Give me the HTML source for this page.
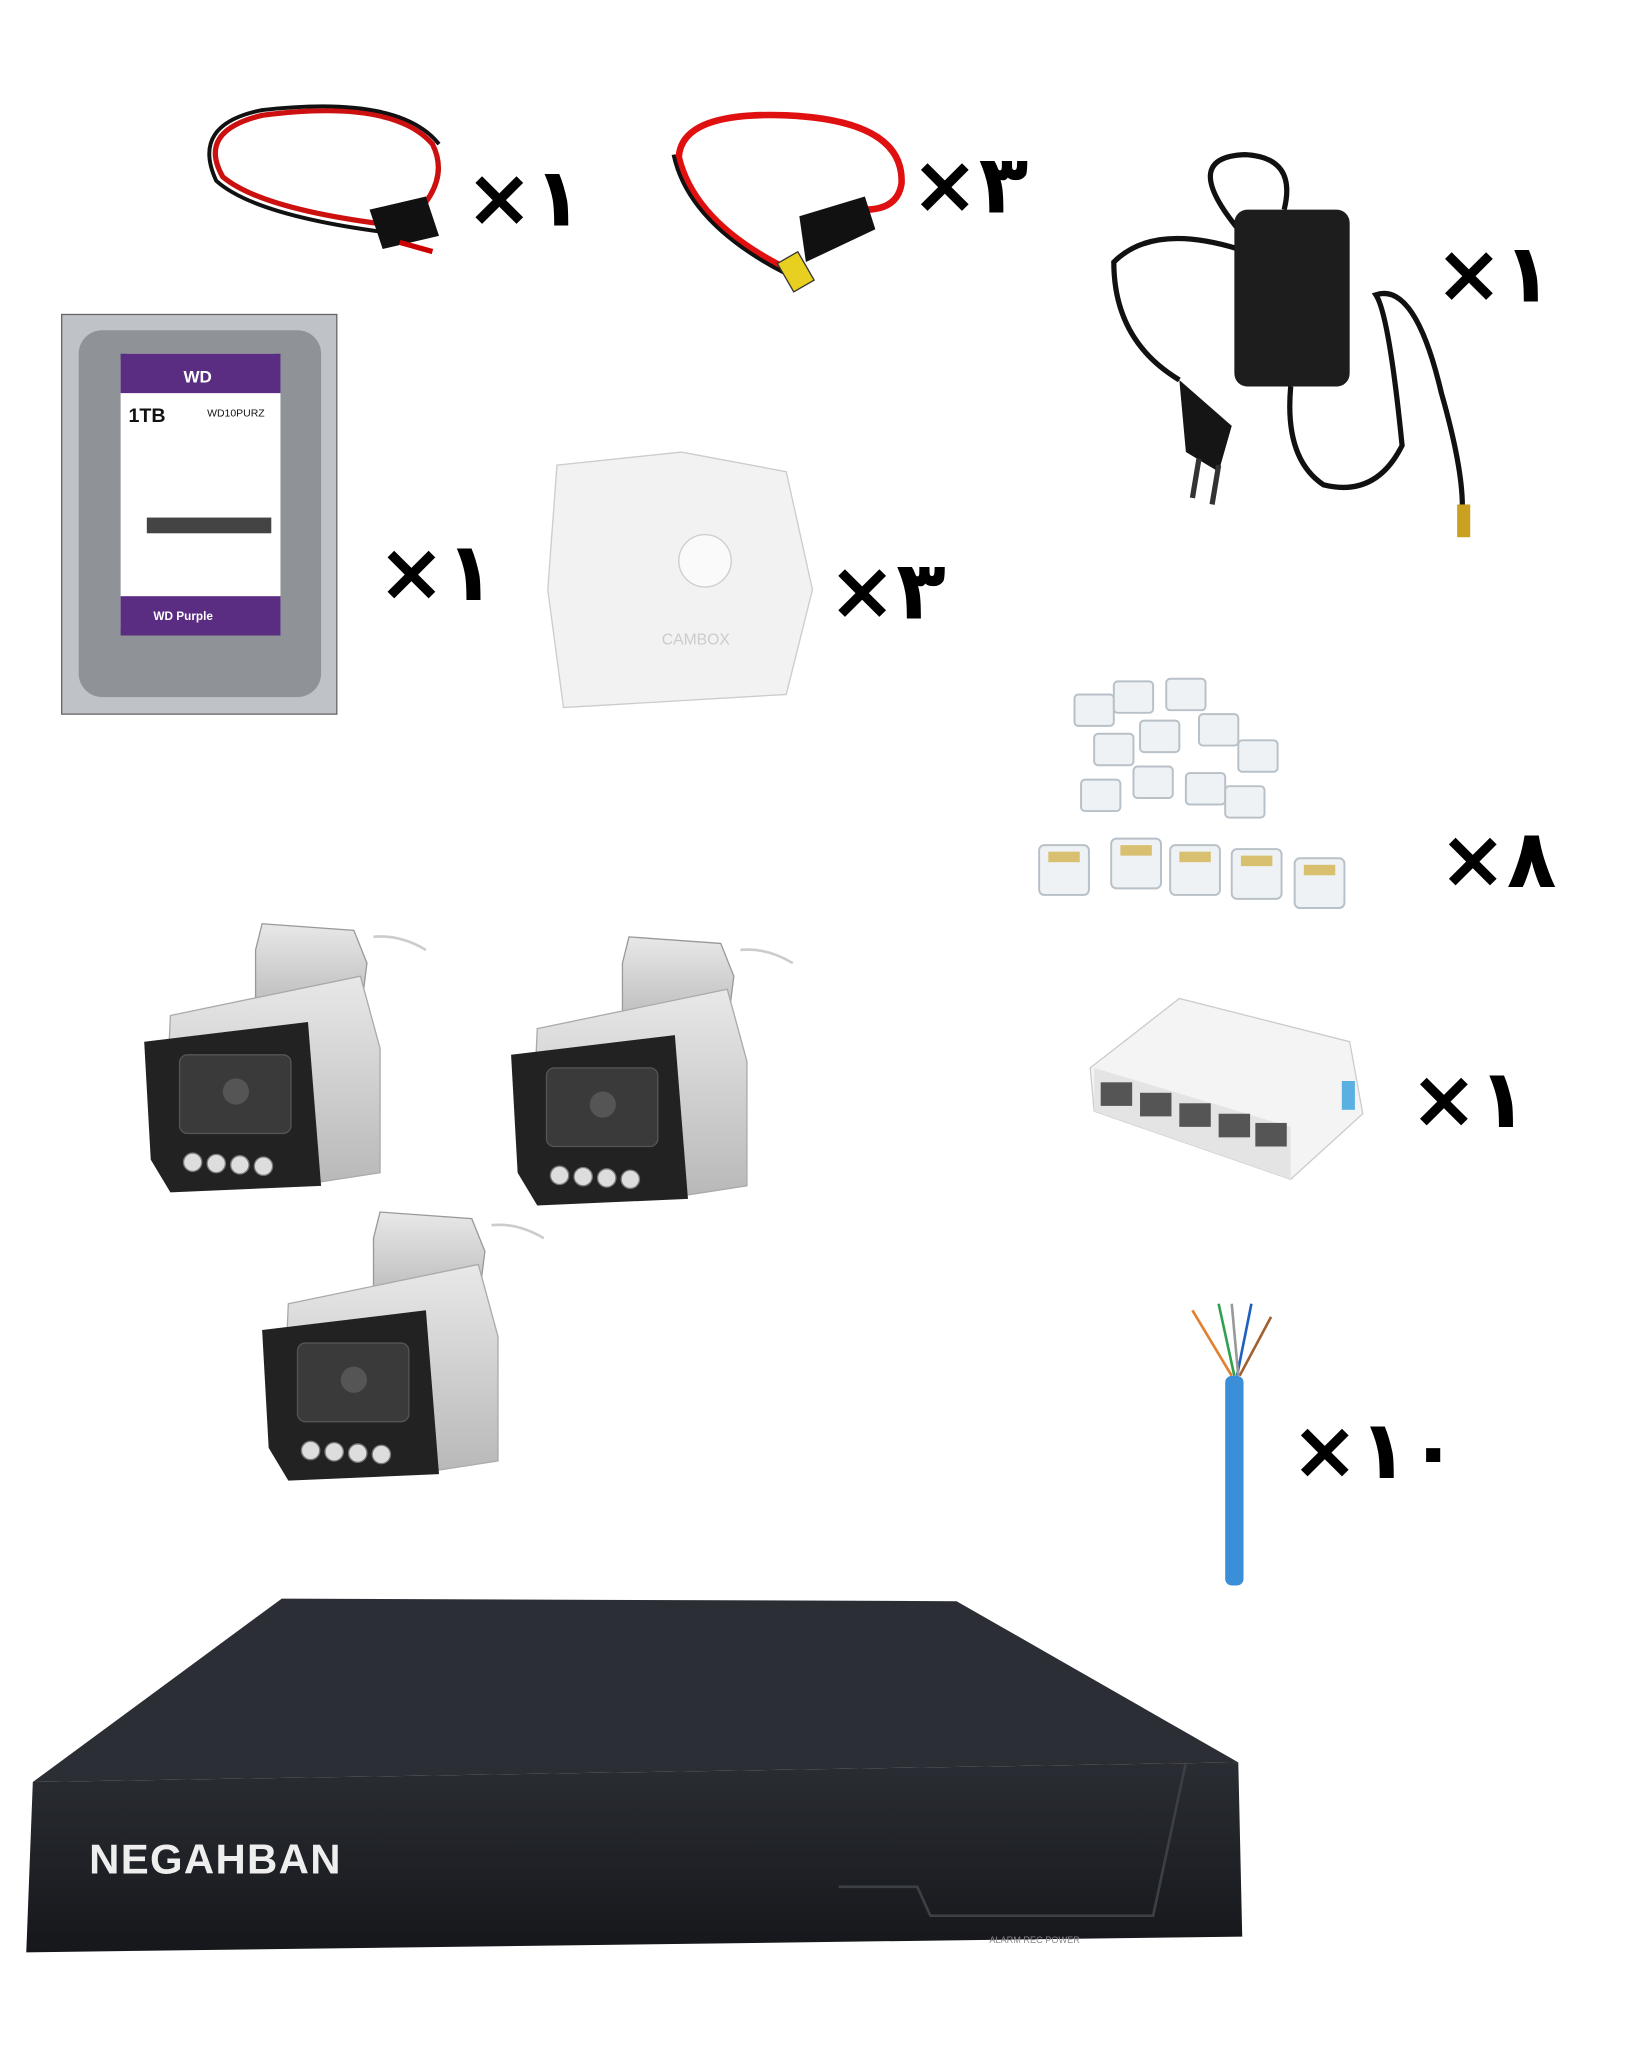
<!DOCTYPE html>
<html><head><meta charset="utf-8"><style>
html,body{margin:0;padding:0;background:#fff;width:1638px;height:2048px;overflow:hidden}
svg{display:block}
.q{font-family:"DejaVu Sans","Liberation Sans",sans-serif;font-weight:bold;font-size:62px;fill:#000}
</style></head><body>
<svg width="1638" height="2048" viewBox="0 0 1250 1563" xmlns="http://www.w3.org/2000/svg">
<rect width="1250" height="1563" fill="#fff"/>
<defs>
<linearGradient id="cam" x1="0" y1="0" x2="0" y2="1"><stop offset="0" stop-color="#e8e8e8"/><stop offset="1" stop-color="#b8b8b8"/></linearGradient>
<linearGradient id="nvr" x1="0" y1="0" x2="0" y2="1"><stop offset="0" stop-color="#2a2d33"/><stop offset="1" stop-color="#15171b"/></linearGradient>
<g id="camera">
 <path d="M95 0 L165 5 L175 30 L170 70 L90 70 L90 20 Z" fill="url(#cam)" stroke="#999"/>
 <path d="M25 70 L170 40 L185 95 L185 190 L120 200 L20 180 Z" fill="url(#cam)" stroke="#aaa"/>
 <path d="M5 90 L130 75 L140 200 L25 205 L10 180 Z" fill="#222" />
 <rect x="32" y="100" width="85" height="60" rx="6" fill="#3a3a3a" stroke="#555"/>
 <circle cx="75" cy="128" r="10" fill="#555"/>
 <g fill="#ddd" stroke="#777"><circle cx="42" cy="182" r="7"/><circle cx="60" cy="183" r="7"/><circle cx="78" cy="184" r="7"/><circle cx="96" cy="185" r="7"/></g>
 <path d="M180 10 Q200 8 220 20" stroke="#ccc" fill="none" stroke-width="2"/>
</g>
</defs>

<!-- cable 1 -->
<path d="M300 172 Q200 160 170 135 Q150 100 200 88 Q300 75 330 110 Q345 140 310 170" fill="none" stroke="#cc1010" stroke-width="4"/>
<path d="M300 178 Q195 165 165 138 Q145 95 200 84 Q305 72 335 110" fill="none" stroke="#111" stroke-width="3"/>
<path d="M282 160 L325 150 L335 180 L292 190 Z" fill="#111"/>
<path d="M305 185 L330 192" stroke="#c00" stroke-width="4"/>
<text class="q" x="355" y="172">×۱</text>

<!-- cable 2 -->
<path d="M600 205 Q530 170 518 120 Q520 85 600 88 Q690 92 688 140 Q685 160 660 160" fill="none" stroke="#e01010" stroke-width="5"/>
<path d="M598 208 Q525 170 514 118" fill="none" stroke="#111" stroke-width="3"/>
<path d="M610 165 L660 150 L668 175 L615 200 Z" fill="#111"/>
<rect x="598" y="195" width="18" height="25" fill="#e8d020" stroke="#333" transform="rotate(-30 607 207)"/>
<text class="q" x="695" y="162">×۳</text>

<!-- adapter -->
<path d="M945 175 Q900 120 950 118 Q990 120 980 160" fill="none" stroke="#111" stroke-width="4"/>
<path d="M945 190 Q880 170 850 200 Q850 260 900 290" fill="none" stroke="#111" stroke-width="4"/>
<rect x="942" y="160" width="88" height="135" rx="10" fill="#1d1d1d"/>
<path d="M985 295 Q980 350 1010 370 Q1050 380 1070 340 Q1060 240 1050 225 Q1080 215 1100 300 Q1120 370 1115 400" fill="none" stroke="#111" stroke-width="4"/>
<path d="M900 290 L940 325 L930 360 L905 345 Z" fill="#151515"/>
<line x1="915" y1="350" x2="910" y2="380" stroke="#333" stroke-width="4"/><line x1="930" y1="355" x2="925" y2="385" stroke="#333" stroke-width="4"/>
<rect x="1112" y="385" width="10" height="25" fill="#c9a020"/>
<text class="q" x="1095" y="230">×۱</text>

<!-- HDD -->
<rect x="47" y="240" width="210" height="305" fill="#bfc2c6" stroke="#666"/>
<rect x="60" y="252" width="185" height="280" rx="18" fill="#8f9398"/>
<rect x="92" y="270" width="122" height="215" rx="6" fill="#fff"/>
<path d="M92 270 h122 v30 h-122 Z" fill="#5a2d82"/>
<rect x="92" y="455" width="122" height="30" fill="#5a2d82"/>
<text x="140" y="292" font-family="Liberation Sans" font-weight="bold" font-size="13" fill="#fff">WD</text>
<text x="98" y="322" font-family="Liberation Sans" font-weight="bold" font-size="15" fill="#111">1TB</text>
<text x="158" y="318" font-family="Liberation Sans" font-size="8" fill="#111">WD10PURZ</text>
<rect x="112" y="395" width="95" height="12" fill="#444"/>
<text x="117" y="473" font-family="Liberation Sans" font-weight="bold" font-size="9" fill="#fff">WD Purple</text>
<text class="q" x="288" y="458">×۱</text>

<!-- junction box -->
<path d="M425 355 L520 345 L600 360 L620 450 L600 530 L430 540 L418 450 Z" fill="#f2f2f2" stroke="#ccc"/>
<circle cx="538" cy="428" r="20" fill="#fafafa" stroke="#ccc"/>
<text x="505" y="492" font-family="Liberation Sans" font-size="12" fill="#ccc">CAMBOX</text>
<text class="q" x="632" y="472">×۳</text>

<!-- RJ45 -->
<g fill="#eef2f4" stroke="#b8c0c8" stroke-width="1.5">
<rect x="820" y="530" width="30" height="24" rx="3"/><rect x="850" y="520" width="30" height="24" rx="3"/><rect x="890" y="518" width="30" height="24" rx="3"/>
<rect x="835" y="560" width="30" height="24" rx="3"/><rect x="870" y="550" width="30" height="24" rx="3"/><rect x="915" y="545" width="30" height="24" rx="3"/><rect x="945" y="565" width="30" height="24" rx="3"/>
<rect x="825" y="595" width="30" height="24" rx="3"/><rect x="865" y="585" width="30" height="24" rx="3"/><rect x="905" y="590" width="30" height="24" rx="3"/><rect x="935" y="600" width="30" height="24" rx="3"/>
<rect x="793" y="645" width="38" height="38" rx="4"/><rect x="848" y="640" width="38" height="38" rx="4"/><rect x="893" y="645" width="38" height="38" rx="4"/><rect x="940" y="648" width="38" height="38" rx="4"/><rect x="988" y="655" width="38" height="38" rx="4"/>
</g>
<g fill="#d8c070"><rect x="800" y="650" width="24" height="8"/><rect x="855" y="645" width="24" height="8"/><rect x="900" y="650" width="24" height="8"/><rect x="947" y="653" width="24" height="8"/><rect x="995" y="660" width="24" height="8"/></g>
<text class="q" x="1098" y="677">×۸</text>

<!-- switch -->
<path d="M832 815 L900 762 L1030 795 L1040 850 L985 900 L835 848 Z" fill="#f4f4f4" stroke="#ccc"/>
<path d="M835 815 L985 860 L985 900 L835 848 Z" fill="#e4e4e4"/>
<g fill="#555"><rect x="840" y="826" width="24" height="18"/><rect x="870" y="834" width="24" height="18"/><rect x="900" y="842" width="24" height="18"/><rect x="930" y="850" width="24" height="18"/><rect x="958" y="857" width="24" height="18"/></g>
<rect x="1024" y="825" width="10" height="22" fill="#5ab0e0"/>
<text class="q" x="1076" y="860">×۱</text>

<!-- cameras -->
<g transform="translate(105,705)"><use href="#camera"/></g>
<g transform="translate(385,715)"><use href="#camera"/></g>
<g transform="translate(195,925)"><use href="#camera"/></g>

<!-- network cable -->
<g stroke-width="2" fill="none"><path d="M940 1050 L910 1000" stroke="#e08030"/><path d="M942 1050 L930 995" stroke="#30a050"/><path d="M944 1050 L955 995" stroke="#2060c0"/><path d="M946 1050 L970 1005" stroke="#a06030"/><path d="M945 1050 L940 995" stroke="#999"/></g>
<rect x="935" y="1050" width="14" height="160" rx="5" fill="#3a8fd8"/>
<text class="q" x="985" y="1128">×۱۰</text>

<!-- NVR -->
<path d="M215 1220 L730 1222 L945 1345 L25 1360 Z" fill="#2b2e34"/>
<path d="M25 1360 L945 1345 L948 1478 L20 1490 Z" fill="url(#nvr)"/>
<path d="M640 1440 L700 1440 L710 1462 L880 1462 L905 1345" fill="none" stroke="#3c3f44" stroke-width="2"/>
<text x="68" y="1430" font-family="Liberation Sans" font-weight="bold" font-size="32" fill="#eee" letter-spacing="1">NEGAHBAN</text>
<text x="755" y="1483" font-family="Liberation Sans" font-size="7" fill="#888">ALARM  REC  POWER</text>
</svg>
</body></html>
